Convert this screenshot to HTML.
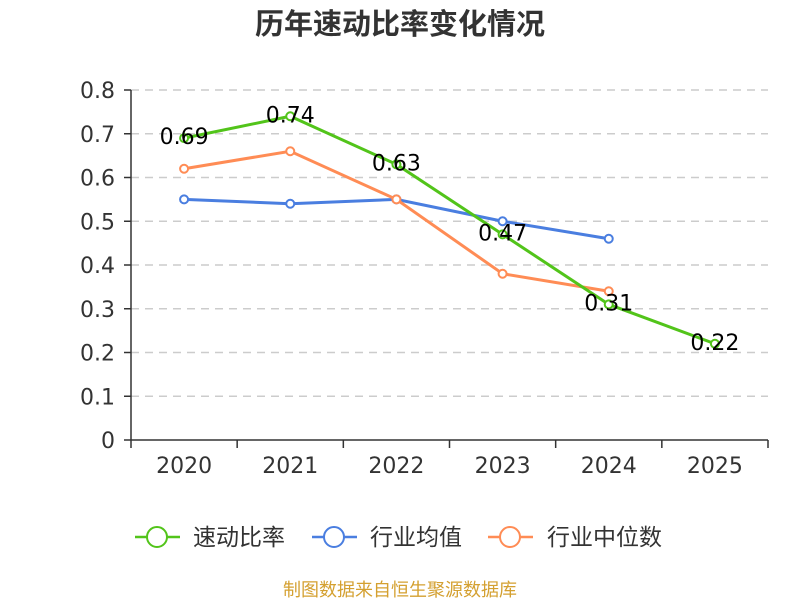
<!DOCTYPE html>
<html><head><meta charset="utf-8"><style>
body{margin:0;background:#fff;}
svg{display:block;font-family:"DejaVu Sans","Liberation Sans","Noto Sans CJK SC",sans-serif;}
</style></head><body>
<svg id="c" width="800" height="600">
<text x="400" y="34" text-anchor="middle" font-size="29" font-weight="bold" fill="#333" font-family="'Liberation Sans','Noto Sans CJK SC',sans-serif">历年速动比率变化情况</text>
<g id="grid"></g><g id="axes"></g><g id="series"></g><g id="labels"></g>
<g font-size="23" fill="#333" font-family="'Liberation Sans','Noto Sans CJK SC',sans-serif">
 <g><line x1="135" y1="537" x2="180" y2="537" stroke="#52c41a" stroke-width="2.5"/><circle cx="157" cy="537" r="10" fill="#fff" stroke="#52c41a" stroke-width="2"/><text x="193" y="545">速动比率</text></g>
 <g><line x1="312" y1="537" x2="357" y2="537" stroke="#4a7ee0" stroke-width="2.5"/><circle cx="334" cy="537" r="10" fill="#fff" stroke="#4a7ee0" stroke-width="2"/><text x="370" y="545">行业均值</text></g>
 <g><line x1="488" y1="537" x2="533" y2="537" stroke="#ff8c55" stroke-width="2.5"/><circle cx="510" cy="537" r="10" fill="#fff" stroke="#ff8c55" stroke-width="2"/><text x="547" y="545">行业中位数</text></g>
</g>
<text x="400" y="596" text-anchor="middle" font-size="18" fill="#d4a030" font-family="'Liberation Sans','Noto Sans CJK SC',sans-serif">制图数据来自恒生聚源数据库</text>
</svg>
<script>
const categories=["2020","2021","2022","2023","2024","2025"];
const quickRatio=[0.69,0.74,0.63,0.47,0.31,0.22];
const industryMean=[0.55,0.54,0.55,0.50,0.46];
const industryMedian=[0.62,0.66,0.55,0.38,0.34];
const yTicks=[0,0.1,0.2,0.3,0.4,0.5,0.6,0.7,0.8];
const yTickLabels=["0","0.1","0.2","0.3","0.4","0.5","0.6","0.7","0.8"];
const NS="http://www.w3.org/2000/svg";
const X0=131,X1=768,Y0=440,Y1=90;
const bw=(X1-X0)/categories.length;
const xs=i=>X0+bw*(i+0.5);
const ys=v=>Y0-(v/0.8)*(Y0-Y1);
function mk(t,a,p){const e=document.createElementNS(NS,t);for(const k in a)e.setAttribute(k,a[k]);p.appendChild(e);return e;}
const grid=document.getElementById('grid'),axes=document.getElementById('axes'),ser=document.getElementById('series'),lab=document.getElementById('labels');
yTicks.forEach((v,i)=>{
 if(v>0){const g=mk('line',{x1:X0,x2:X1,y1:ys(v),y2:ys(v),stroke:'#ccc','stroke-dasharray':'8,6','stroke-width':1.5},grid);
 
 }
 const tk=mk('line',{x1:X0-7,x2:X0,y1:ys(v),y2:ys(v),stroke:'#333','stroke-width':1.5},axes);
 
 
 const t=mk('text',{x:X0-16,y:ys(v)+8,'text-anchor':'end','font-size':22,fill:'#333'},axes);t.textContent=yTickLabels[i];
 
 
});
const ya=mk('line',{x1:X0,x2:X0,y1:Y1,y2:Y0,stroke:'#333','stroke-width':1.5},axes);


const xa=mk('line',{x1:X0,x2:X1,y1:Y0,y2:Y0,stroke:'#333','stroke-width':1.5},axes);


for(let i=0;i<=categories.length;i++){const tk=mk('line',{x1:X0+bw*i,x2:X0+bw*i,y1:Y0,y2:Y0+8,stroke:'#333','stroke-width':1.5},axes);
 
 }
categories.forEach((c,i)=>{const t=mk('text',{x:xs(i),y:Y0+33,'text-anchor':'middle','font-size':22,fill:'#333'},axes);t.textContent=c;
 
 });
function line(data,color,name){
 const p=mk('polyline',{points:data.map((v,i)=>xs(i)+','+ys(v)).join(' '),fill:'none',stroke:color,'stroke-width':3},ser);
 
 
 data.forEach((v,i)=>{const c=mk('circle',{cx:xs(i),cy:ys(v),r:4,fill:'#fff',stroke:color,'stroke-width':2},ser);
 
 });
}
line(industryMean,'#4a7ee0','industry-mean');
line(industryMedian,'#ff8c55','industry-median');
line(quickRatio,'#52c41a','quick-ratio');
quickRatio.forEach((v,i)=>{const t=mk('text',{x:xs(i),y:ys(v)+6,'text-anchor':'middle','font-size':22,fill:'#000'},lab);t.textContent=v.toFixed(2);
 
 });
</script>
</body></html>
